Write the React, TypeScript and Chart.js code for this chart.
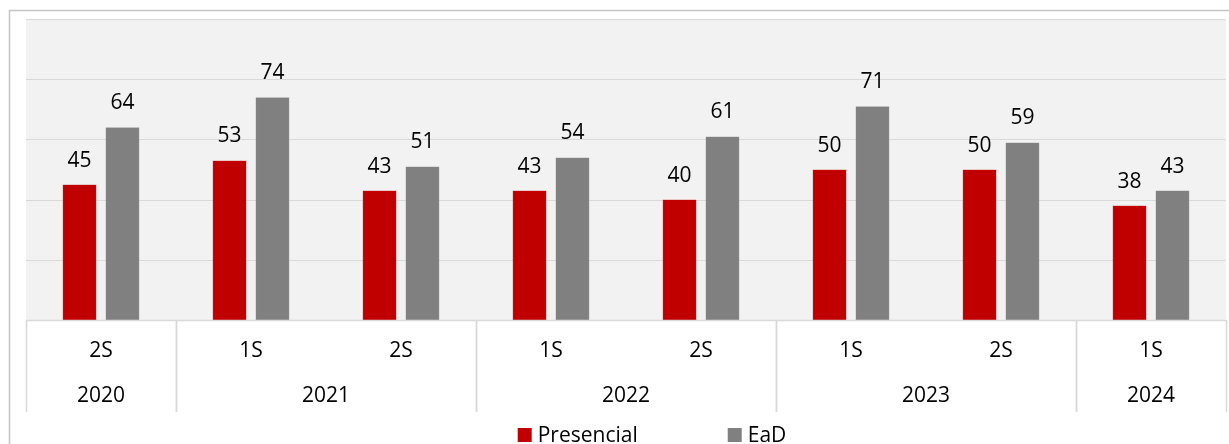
import React, { useEffect, useRef } from "react";
import { Chart, registerables } from "chart.js";

Chart.register(...registerables);

const semesters = ["2S", "1S", "2S", "1S", "2S", "1S", "2S", "1S"];
const years = ["2020", "2021", "2021", "2022", "2022", "2023", "2023", "2024"];
const presencial = [45, 53, 43, 43, 40, 50, 50, 38];
const ead = [64, 74, 51, 54, 61, 71, 59, 43];
const seriesNames = ["Presencial", "EaD"];
const seriesColors = ["#C00000", "#808080"];
const yTicks = [0, 20, 40, 60, 80, 100];

const FONT = '"Open Sans", "Noto Sans", sans-serif';
const FS = 21;

const decorPlugin = {
  id: "decor",
  beforeDraw(chart: any) {
    const { ctx, chartArea, scales } = chart;
    const y = scales.y;
    ctx.save();
    // outer frame
    ctx.strokeStyle = "#c4c4c4";
    ctx.lineWidth = 1.5;
    ctx.beginPath();
    ctx.moveTo(9.5, 460);
    ctx.lineTo(9.5, 10.5);
    ctx.lineTo(1240, 10.5);
    ctx.stroke();
    // plot background
    ctx.fillStyle = "#f2f2f2";
    ctx.fillRect(chartArea.left, chartArea.top, chartArea.right - chartArea.left, chartArea.bottom - chartArea.top);
    // gridlines
    ctx.strokeStyle = "#d9d9d9";
    ctx.lineWidth = 1;
    yTicks.forEach((t) => {
      const py = Math.round(y.getPixelForValue(t)) + 0.5;
      ctx.beginPath();
      ctx.moveTo(chartArea.left, py);
      ctx.lineTo(chartArea.right, py);
      ctx.stroke();
    });
    ctx.restore();
  },
  afterDatasetsDraw(chart: any) {
    const { ctx } = chart;
    ctx.save();
    ctx.font = `${FS}px ${FONT}`;
    ctx.fillStyle = "#000";
    ctx.textAlign = "center";
    ctx.textBaseline = "alphabetic";
    chart.data.datasets.forEach((ds: any, di: number) => {
      const meta = chart.getDatasetMeta(di);
      meta.data.forEach((el: any, i: number) => {
        ctx.fillText(String(ds.data[i]), el.x, el.y - 18);
      });
    });
    ctx.restore();
  },
  afterDraw(chart: any) {
    const { ctx, chartArea, scales } = chart;
    const x = scales.x;
    const n = semesters.length;
    const cw = (chartArea.right - chartArea.left) / n;
    const top = chartArea.bottom;
    const bottom = 412;
    ctx.save();
    ctx.font = `${FS}px ${FONT}`;
    ctx.fillStyle = "#000";
    ctx.textAlign = "center";
    ctx.textBaseline = "middle";
    // semester labels
    semesters.forEach((s, i) => {
      ctx.fillText(s, x.getPixelForValue(i), 351);
    });
    // year groups
    const groups: { year: string; start: number; end: number }[] = [];
    years.forEach((yv, i) => {
      const last = groups[groups.length - 1];
      if (last && last.year === yv) last.end = i;
      else groups.push({ year: yv, start: i, end: i });
    });
    ctx.strokeStyle = "#d9d9d9";
    ctx.lineWidth = 1.5;
    groups.forEach((g) => {
      const l = x.getPixelForValue(g.start) - cw / 2;
      const r = x.getPixelForValue(g.end) + cw / 2;
      ctx.fillText(g.year, (l + r) / 2, 396);
      [l, r].forEach((px) => {
        ctx.beginPath();
        ctx.moveTo(Math.round(px) + 0.5, top);
        ctx.lineTo(Math.round(px) + 0.5, bottom);
        ctx.stroke();
      });
    });
    // axis line
    ctx.beginPath();
    ctx.moveTo(chartArea.left, top + 0.5);
    ctx.lineTo(chartArea.right, top + 0.5);
    ctx.stroke();
    // legend
    ctx.textAlign = "left";
    ctx.textBaseline = "alphabetic";
    const box = 14;
    const gapText = 6;
    const gapItem = 90;
    const items = chart.data.datasets.map((ds: any) => ({
      label: ds.label,
      color: ds.backgroundColor,
      w: box + gapText + ctx.measureText(ds.label).width,
    }));
    const total = items.reduce((a: number, it: any) => a + it.w, 0) + gapItem * (items.length - 1);
    let lx = 652 - total / 2;
    items.forEach((it: any) => {
      ctx.fillStyle = it.color;
      ctx.fillRect(lx, 428, box, box);
      ctx.fillStyle = "#000";
      ctx.fillText(it.label, lx + box + gapText, 442);
      lx += it.w + gapItem;
    });
    ctx.restore();
  },
};

export default function App() {
  const ref = useRef<HTMLCanvasElement | null>(null);
  useEffect(() => {
    if (!ref.current) return;
    const chart = new Chart(ref.current, {
      type: "bar",
      data: {
        labels: semesters.map((s, i) => `${years[i]} ${s}`),
        datasets: [
          {
            label: seriesNames[0],
            data: presencial,
            backgroundColor: seriesColors[0],
            borderColor: "#d24a4a",
            borderWidth: 0.5,
            barPercentage: 0.79,
            categoryPercentage: 0.573,
          },
          {
            label: seriesNames[1],
            data: ead,
            backgroundColor: seriesColors[1],
            borderColor: "#9a9a9a",
            borderWidth: 0.5,
            barPercentage: 0.79,
            categoryPercentage: 0.573,
          },
        ],
      },
      options: {
        responsive: false,
        animation: false,
        devicePixelRatio: 1,
        layout: { padding: { left: 26, right: 3, top: 19, bottom: 124 } },
        plugins: { legend: { display: false }, tooltip: { enabled: false } },
        scales: {
          x: { display: false },
          y: { display: false, min: 0, max: 100 },
        },
      },
      plugins: [decorPlugin],
    });
    return () => chart.destroy();
  }, []);
  return (
    <div style={{ position: "fixed", left: 0, top: 0, width: 1229, height: 444, background: "#fff" }}>
      <canvas ref={ref} width={1229} height={444} style={{ display: "block" }} />
    </div>
  );
}
